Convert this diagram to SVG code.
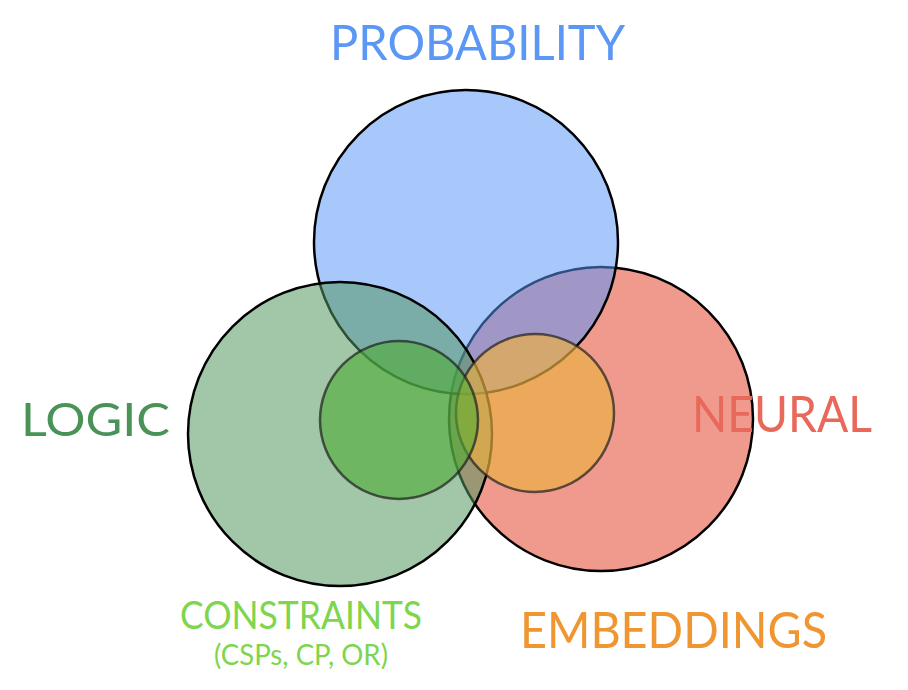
<svg xmlns="http://www.w3.org/2000/svg" width="908" height="690" viewBox="0 0 908 690">
<style>
  .big { stroke: #000; stroke-width: 2.5; }
  .small { stroke: rgba(30,30,30,0.7); stroke-width: 2.5; }
  text { font-family: "Lato", "Open Sans", "Liberation Sans", sans-serif; }
</style>
<rect width="908" height="690" fill="#ffffff"/>
<g id="neural">
  <circle class="big" cx="601" cy="419" r="152" fill="#f09a8e"/>
</g>
<g id="probability">
  <circle class="big" cx="466" cy="242" r="152" fill="rgb(88,150,250)" fill-opacity="0.52"/>
</g>
<g id="logic">
  <circle class="big" cx="340" cy="434" r="152" fill="rgb(83,150,94)" fill-opacity="0.54"/>
</g>
<g id="embeddings">
  <circle class="small" cx="535" cy="413" r="79" fill="rgb(234,176,67)" fill-opacity="0.68"/>
</g>
<g id="constraints">
  <circle class="small" cx="399" cy="420" r="79" fill="rgb(77,172,52)" fill-opacity="0.6"/>
</g>
<g id="labels">
  <text x="330" y="60" font-size="49" fill="#5b97f5" textLength="295" lengthAdjust="spacingAndGlyphs">PROBABILITY</text>
  <text x="21" y="436" font-size="46" fill="#4a9358" textLength="149" lengthAdjust="spacingAndGlyphs">LOGIC</text>
  <text x="692" y="432" font-size="50" fill="#e8685a" textLength="180" lengthAdjust="spacingAndGlyphs">NEURAL</text>
  <text x="180" y="629" font-size="38" fill="#7ed54e" textLength="242" lengthAdjust="spacingAndGlyphs">CONSTRAINTS</text>
  <text x="214" y="665" font-size="28" fill="#7ed54e" textLength="174" lengthAdjust="spacingAndGlyphs">(CSPs, CP, OR)</text>
  <text x="520" y="648" font-size="51" fill="#ef9630" textLength="307" lengthAdjust="spacingAndGlyphs">EMBEDDINGS</text>
</g>
</svg>
